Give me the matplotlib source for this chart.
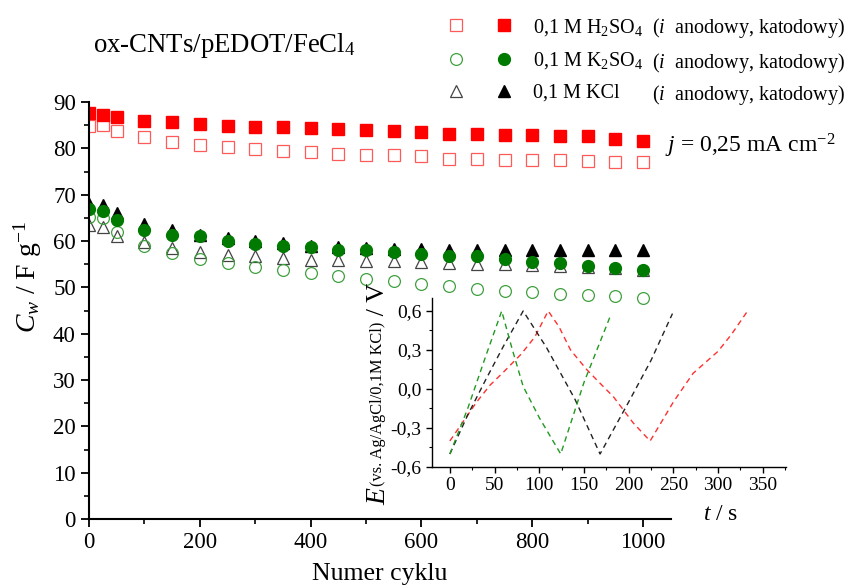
import numpy as np
import matplotlib
matplotlib.use("Agg")
from matplotlib import pyplot as plt
from matplotlib.legend_handler import HandlerTuple

plt.rcParams['font.family'] = ['Liberation Serif', 'DejaVu Serif']
plt.rcParams['mathtext.fontset'] = 'custom'
plt.rcParams['mathtext.rm'] = 'Liberation Serif'
plt.rcParams['mathtext.it'] = 'Liberation Serif:italic'

# numer cyklu
cykle = [0, 25, 50, 100, 150, 200, 250, 300, 350, 400, 450, 500, 550,
         600, 650, 700, 750, 800, 850, 900, 950, 1000]

# H2SO4
h2so4_anod = [84.9, 85.0, 83.7, 82.4, 81.4, 80.8, 80.3, 79.8, 79.5, 79.2, 78.8,
              78.6, 78.5, 78.3, 77.8, 77.8, 77.5, 77.5, 77.4, 77.3, 77.1, 77.1]
h2so4_katod = [87.7, 87.3, 86.7, 86.0, 85.7, 85.2, 84.9, 84.7, 84.6, 84.4, 84.2,
               84.0, 83.7, 83.5, 83.2, 83.0, 82.9, 82.9, 82.7, 82.6, 82.1, 81.6]
# K2SO4
k2so4_anod = [65.1, 64.9, 62.0, 59.0, 57.5, 56.2, 55.2, 54.5, 53.8, 53.1, 52.5,
              51.8, 51.3, 50.8, 50.4, 49.7, 49.2, 48.9, 48.6, 48.3, 48.2, 47.7]
k2so4_katod = [67.0, 66.4, 64.6, 62.4, 61.3, 61.0, 59.9, 59.4, 59.0, 58.7, 58.1,
               58.0, 57.6, 57.2, 56.8, 56.7, 56.2, 55.4, 55.2, 54.6, 54.1, 53.8]
# KCl
kcl_anod = [63.5, 63.0, 61.0, 59.8, 58.4, 57.6, 57.0, 56.7, 56.3, 55.9, 55.9,
            55.6, 55.6, 55.5, 55.3, 55.1, 55.0, 54.8, 54.6, 54.4, 54.1, 53.8]
kcl_katod = [68.0, 67.8, 66.1, 63.7, 62.4, 61.3, 60.7, 59.9, 59.5, 59.0, 58.7,
             58.5, 58.3, 58.2, 58.1, 58.1, 58.0, 58.0, 58.0, 58.0, 58.0, 58.0]

# krzywe ladowania/rozladowania (wstawka)
t_h2so4 = [0, 15, 30, 45, 60, 80, 95, 110, 122, 135, 153, 170, 183, 205, 224,
           237, 250, 272, 300, 315, 333]
e_h2so4 = [-0.40, -0.25, -0.10, 0.03, 0.13, 0.27, 0.40, 0.60, 0.48, 0.30, 0.15,
           0.03, -0.06, -0.26, -0.40, -0.25, -0.10, 0.12, 0.29, 0.42, 0.60]
t_k2so4 = [0, 20, 40, 58, 70, 82, 100, 124, 150, 180]
e_k2so4 = [-0.50, -0.15, 0.25, 0.60, 0.30, 0.02, -0.22, -0.50, 0.05, 0.57]
t_kcl = [0, 20, 40, 60, 82, 108, 140, 168, 200, 225, 249]
e_kcl = [-0.50, -0.20, 0.07, 0.33, 0.60, 0.32, -0.08, -0.50, -0.10, 0.22, 0.58]

fig = plt.figure(figsize=(8.48, 5.88), dpi=100)
ax = fig.add_axes([0.105, 0.1173, 0.686, 0.7092])

ms = 8.5
h1, = ax.plot(cykle, kcl_anod, '^', ms=ms, mfc='none', mec='#444444', mew=0.9)
h2, = ax.plot(cykle, kcl_katod, '^', ms=ms, color='black')
h3, = ax.plot(cykle, k2so4_anod, 'o', ms=ms, mfc='none', mec='#3fa03f', mew=0.9)
h4, = ax.plot(cykle, k2so4_katod, 'o', ms=ms, color='#007a00')
h5, = ax.plot(cykle, h2so4_anod, 's', ms=8, mfc='none', mec='#ff5a5a', mew=0.9)
h6, = ax.plot(cykle, h2so4_katod, 's', ms=8, color='#ff0000')

ax.set_xlim(0, 1050)
ax.set_ylim(0, 90)
ax.set_xticks([0, 200, 400, 600, 800, 1000])
ax.set_xticks([100, 300, 500, 700, 900], minor=True)
ax.set_yticks(np.arange(0, 91, 10))
ax.set_yticks(np.arange(5, 90, 10), minor=True)
for s in ['top', 'right']:
    ax.spines[s].set_visible(False)
for s in ['left', 'bottom']:
    ax.spines[s].set_linewidth(1.5)
ax.tick_params(which='major', direction='out', length=6, width=1.3, labelsize=16.5)
ax.tick_params(which='minor', direction='out', length=3.5, width=1.2)
ax.set_xlabel('Numer cyklu', fontsize=18.5, labelpad=7)
fig.text(0.033, 0.529, r'$C_w$ / F g$^{-1}$', rotation=90, fontsize=20,
         ha='center', va='center')

fig.text(0.11, 0.912, r'ox-CNTs/pEDOT/FeCl$_4$', fontsize=19.3, ha='left', va='baseline')
fig.text(0.985, 0.741, r'$j$ = 0,25 mA cm$^{-2}$', fontsize=17, ha='right', va='baseline')

leg = ax.legend([(h5, h6), (h3, h4), (h1, h2)],
                [r'0,1 M H$_2$SO$_4$', r'0,1 M K$_2$SO$_4$', '0,1 M KCl'],
                handler_map={tuple: HandlerTuple(ndivide=None, pad=1.5)},
                loc='upper left', bbox_to_anchor=(0.51, 0.995), bbox_transform=fig.transFigure,
                frameon=False, fontsize=14.5, handlelength=3.3, handletextpad=1.0,
                labelspacing=0.62, borderaxespad=0.3)
for i, y in enumerate([0.952, 0.893, 0.839]):
    fig.text(0.997, y, r'($i$  anodowy, katodowy)', fontsize=14.5, ha='right', va='center')

# wstawka
axi = fig.add_axes([0.5094, 0.2058, 0.4175, 0.2874], facecolor='none')
axi.plot(t_h2so4, e_h2so4, '--', color='#ff3030', lw=1, dashes=(4, 3))
axi.plot(t_kcl, e_kcl, '--', color='#222222', lw=1, dashes=(4, 3))
axi.plot(t_k2so4, e_k2so4, '--', color='#1f9a1f', lw=1, dashes=(4, 3))
axi.set_xlim(-20, 376)
axi.set_ylim(-0.6, 0.7)
axi.set_xticks(np.arange(0, 351, 50))
axi.set_xticks(np.arange(25, 376, 50), minor=True)
axi.set_yticks([-0.6, -0.3, 0.0, 0.3, 0.6])
axi.set_yticks([-0.45, -0.15, 0.15, 0.45], minor=True)
axi.set_yticklabels(['-0,6', '-0,3', '0,0', '0,3', '0,6'])
for s in ['top', 'right']:
    axi.spines[s].set_visible(False)
for s in ['left', 'bottom']:
    axi.spines[s].set_linewidth(1.0)
axi.tick_params(which='major', direction='out', length=4, width=1, labelsize=14)
axi.tick_params(which='minor', direction='out', length=2.5, width=0.8)
fig.text(0.85, 0.115, r'$t$ / s', fontsize=17, ha='center', va='baseline')

e1 = fig.text(0.446, 0.141, r'$E$', fontsize=20, rotation=90, ha='center', va='bottom')
e2 = axi.annotate('(vs. Ag/AgCl/0,1M KCl)', xy=(0.5, 1.0), xycoords=e1, fontsize=11.8,
                  rotation=90, ha='center', va='bottom', annotation_clip=False)
e3 = axi.annotate(' / V', xy=(0.5, 1.0), xycoords=e2, fontsize=19,
                  rotation=90, ha='center', va='bottom', annotation_clip=False)

fig.savefig('out.png', dpi=100)
